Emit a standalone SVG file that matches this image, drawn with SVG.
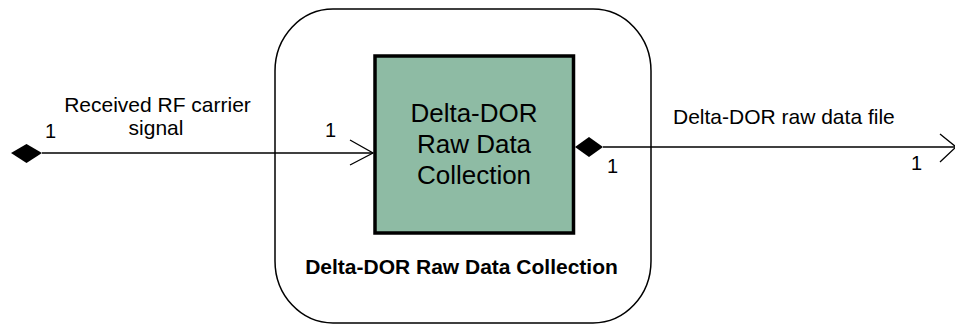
<svg xmlns="http://www.w3.org/2000/svg" width="955" height="324" viewBox="0 0 955 324">
<style>
text{font-family:"Liberation Sans",Arial,sans-serif;fill:#000}
.lbl{font-size:21px}
.mul{font-size:20px}
.big{font-size:26px;text-anchor:middle}
.bold{font-size:21px;font-weight:bold;text-anchor:middle}
.ln{stroke:#000;stroke-width:1.3;fill:none}
.dia{fill:#000;stroke:none}
</style>
<rect width="955" height="324" fill="#fff"/>
<g id="outer-node">
<rect x="275" y="9" width="376" height="314" rx="58" ry="62" fill="#fff" stroke="#000" stroke-width="1.5"/>
<text class="bold" x="461.5" y="274">Delta-DOR Raw Data Collection</text>
</g>
<g id="inner-node">
<rect x="375" y="56" width="198.5" height="177" fill="#8EBBA4" stroke="#000" stroke-width="3.5"/>
<text class="big" x="474" y="122">Delta-DOR</text>
<text class="big" x="474" y="153">Raw Data</text>
<text class="big" x="474" y="184">Collection</text>
</g>
<g id="connectors">
<g id="conn-in">
<polygon class="dia" points="11,153 26.5,144 42,153 26.5,163"/>
<line class="ln" x1="42" y1="153" x2="373" y2="153"/>
<polyline class="ln" points="350,140 373,153 350,165"/>
<text class="mul" x="45" y="138">1</text>
<text class="mul" x="325" y="137">1</text>
<text class="lbl" x="157.5" y="112" text-anchor="middle">Received RF carrier</text>
<text class="lbl" x="156" y="135" text-anchor="middle">signal</text>
</g>
<g id="conn-out">
<polygon class="dia" points="575,147 589,137 603,147 589,157"/>
<line class="ln" x1="603" y1="147" x2="955" y2="147"/>
<polyline class="ln" points="940,134 956,147 940,162"/>
<text class="mul" x="607" y="173">1</text>
<text class="mul" x="911" y="170">1</text>
<text class="lbl" x="673" y="124">Delta-DOR raw data file</text>
</g>
</g>
</svg>
